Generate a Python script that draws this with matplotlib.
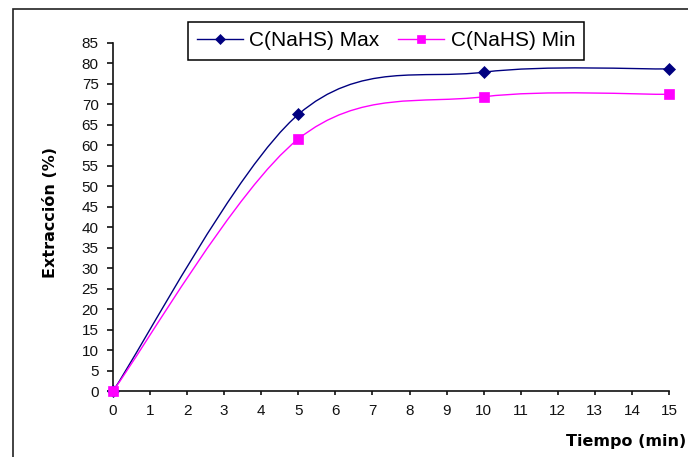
import matplotlib
matplotlib.use("Agg")
import matplotlib.pyplot as plt
from matplotlib.path import Path
from matplotlib.patches import PathPatch, Rectangle
from matplotlib.lines import Line2D

# --- Data ---
tiempo = [0, 5, 10, 15]
extr_max = [0, 67.5, 77.8, 78.6]
extr_min = [0, 61.5, 71.8, 72.4]
labels = ["C(NaHS) Max", "C(NaHS) Min"]
x_ticks = list(range(0, 16))
y_ticks = list(range(0, 90, 5))

NAVY = "#000080"
MAGENTA = "#FF00FF"


def smooth_path(xs, ys):
    # Excel-style smoothed line: cubic Bezier segments with Catmull-Rom control points
    pts = list(zip(xs, ys))
    n = len(pts)
    verts = [pts[0]]
    codes = [Path.MOVETO]
    for i in range(n - 1):
        p_prev = pts[i - 1] if i > 0 else pts[i]
        p0 = pts[i]
        p1 = pts[i + 1]
        p_next = pts[i + 2] if i + 2 < n else pts[i + 1]
        c1 = (p0[0] + (p1[0] - p_prev[0]) / 6, p0[1] + (p1[1] - p_prev[1]) / 6)
        c2 = (p1[0] - (p_next[0] - p0[0]) / 6, p1[1] - (p_next[1] - p0[1]) / 6)
        verts += [c1, c2, p1]
        codes += [Path.CURVE4] * 3
    return Path(verts, codes)


fig = plt.figure(figsize=(6.88, 4.57), dpi=100)
ax = fig.add_axes([0.1642, 0.1444, 0.8082, 0.7622])

# --- Curves ---
for ys, col in [(extr_max, NAVY), (extr_min, MAGENTA)]:
    ax.add_patch(PathPatch(smooth_path(tiempo, ys), fill=False, edgecolor=col,
                           linewidth=1.0, clip_on=False, zorder=2))

ax.plot(tiempo, extr_max, linestyle="none", marker="D", markersize=6.5,
        color=NAVY, markeredgewidth=0.5, clip_on=False, zorder=3)
ax.plot(tiempo, extr_min, linestyle="none", marker="s", markersize=7.8,
        color=MAGENTA, markeredgewidth=0.5, clip_on=False, zorder=3)

ax.set_xlim(0, 15)
ax.set_ylim(0, 85)
ax.set_xticks(x_ticks)
ax.set_yticks(y_ticks)

# --- Axes styling ---
for side in ["top", "right"]:
    ax.spines[side].set_visible(False)
for side in ["left", "bottom"]:
    ax.spines[side].set_linewidth(1.2)
    ax.spines[side].set_color("#111111")
ax.tick_params(axis="y", direction="out", length=4.3, width=1.2, pad=6,
               color="#111111")
ax.tick_params(axis="x", direction="out", length=3, width=1.2, pad=6,
               color="#111111")
for lbl in ax.get_xticklabels() + ax.get_yticklabels():
    lbl.set_fontfamily("Liberation Sans")
    lbl.set_fontsize(11)
    lbl.set_color("#111111")

# --- Axis titles ---
fig.text(0.074, 0.534, "Extracción (%)", rotation=90, ha="center", va="center",
         fontsize=11.5, fontweight="bold", family="DejaVu Sans")
fig.text(0.997, 0.035, "Tiempo (min)", ha="right", va="center",
         fontsize=11.5, fontweight="bold", family="DejaVu Sans")

# --- Legend ---
handles = [
    Line2D([], [], color=NAVY, linewidth=1.0, marker="D", markersize=5,
           markeredgewidth=0.5),
    Line2D([], [], color=MAGENTA, linewidth=1.0, marker="s", markersize=6,
           markeredgewidth=0.5),
]
leg = fig.legend(handles, labels, loc="upper left",
                 bbox_to_anchor=(0.2733, 0.9519), ncol=2, frameon=True,
                 fancybox=False, shadow=False, borderpad=0.45,
                 handlelength=2.2, handletextpad=0.3, columnspacing=0.9,
                 borderaxespad=0, prop={"family": "Liberation Sans", "size": 15})
leg.get_frame().set_edgecolor("black")
leg.get_frame().set_linewidth(1.1)
leg.get_frame().set_alpha(1)

# --- Outer chart border ---
fig.patches.append(Rectangle((0.0189, -0.2), 1.2, 1.1803, transform=fig.transFigure,
                             fill=False, edgecolor="#222222", linewidth=1.2))

fig.savefig("out.png", dpi=100)
